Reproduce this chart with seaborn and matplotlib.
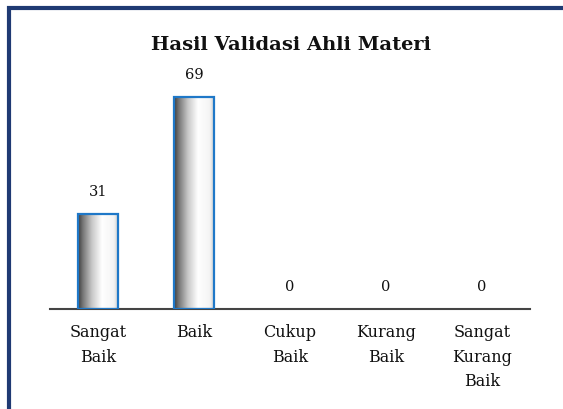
import matplotlib
matplotlib.use("Agg")
import matplotlib.pyplot as plt
import seaborn as sns
import numpy as np
import pandas as pd
from matplotlib.colors import LinearSegmentedColormap
from matplotlib.patches import Rectangle

categories = ["Sangat\nBaik", "Baik", "Cukup\nBaik", "Kurang\nBaik", "Sangat\nKurang\nBaik"]
values = [31, 69, 0, 0, 0]
title = "Hasil Validasi Ahli Materi"

sns.set_theme(style="white")
plt.rcParams['font.family'] = ['DejaVu Serif', 'Liberation Serif']

W, H = 563, 409
fig = plt.figure(figsize=(W / 100, H / 100), dpi=100)
fig.patch.set_facecolor("white")
ax = fig.add_axes([50 / W, 1 - 309 / H, (530 - 50) / W, (309 - 63) / H])

df = pd.DataFrame({"cat": categories, "val": values})
sns.barplot(data=df, x="cat", y="val", ax=ax, width=0.41, color="white",
            edgecolor="#1F78C8", linewidth=1.6, zorder=3)

cmap = LinearSegmentedColormap.from_list(
    "g", [(0.0, "#3c3c3c"), (0.12, "#767676"), (0.35, "#c8c8c8"), (0.6, "#ffffff"),
          (0.9, "#f4f4f4"), (1.0, "#d0d0d0")])
grad = np.linspace(0, 1, 256).reshape(1, -1)
for p in ax.patches:
    x0, y0 = p.get_x(), p.get_y()
    w, h = p.get_width(), p.get_height()
    if h <= 0:
        p.set_visible(False)
        continue
    im = ax.imshow(grad, cmap=cmap, aspect="auto", extent=[x0, x0 + w, y0, y0 + h],
                   zorder=2.5, interpolation="bicubic")
    im.set_clip_path(p)
    p.set_facecolor("none")

for i, v in enumerate(values):
    ax.text(i, v + 4.8, str(v), ha="center", va="bottom", fontsize=10.5, color="#111111")

ax.set_xlim(-0.5, 4.5)
ax.set_ylim(0, 80)
ax.set_xlabel("")
ax.set_ylabel("")
ax.set_yticks([])
ax.tick_params(axis="x", length=0, pad=11, labelsize=11.5, colors="#111111")
for lab in ax.get_xticklabels():
    lab.set_linespacing(1.58)
for s in ["top", "right", "left"]:
    ax.spines[s].set_visible(False)
ax.spines["bottom"].set_color("#444444")
ax.spines["bottom"].set_linewidth(1.5)
ax.set_facecolor("none")

fig.text(291 / W, 1 - 45 / H, title, ha="center", va="center", fontsize=14,
         fontweight="bold", color="#111111")

border = Rectangle((9 / W, -0.05), 1.1, 1 - 8 / H + 0.05, transform=fig.transFigure,
                   fill=False, edgecolor="#1F3A73", linewidth=3.0, zorder=10)
fig.patches.append(border)

fig.savefig("out.png", dpi=100)
